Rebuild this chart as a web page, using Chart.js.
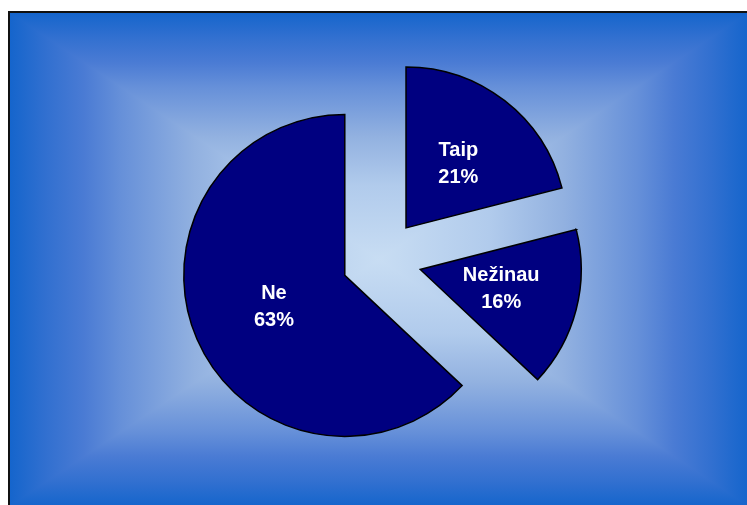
<!DOCTYPE html>
<html>
<head>
<meta charset="utf-8">
<script src="https://cdn.jsdelivr.net/npm/chart.js@4/dist/chart.umd.min.js"></script>
<style>
  html, body { margin: 0; padding: 0; background: #ffffff; }
  canvas { display: block; }
</style>
</head>
<body>
<canvas id="c" width="747" height="505"></canvas>
<script>
// ---- data ----
const categories = ['Taip', 'Nežinau', 'Ne'];
const values = [21, 16, 63];

// ---- style ----
const SLICE_COLOR = '#000080';
const EXPLODE = 40;      // px every slice is pulled out from the centre
const RADIUS = 161;
const LABEL_FONT = 'bold 20px "Liberation Sans", Arial, sans-serif';

const total = values.reduce((a, b) => a + b, 0);
const percentLabels = values.map(v => Math.round(v / total * 100) + '%');

// rectangular "from centre" gradient background with black frame
const frameBackground = {
  id: 'frameBackground',
  beforeDraw(chart) {
    const ctx = chart.ctx;
    const x0 = 10, y0 = 13, x1 = 748, y1 = 506;
    const cx = (x0 + x1) / 2, cy = (y0 + y1) / 2;
    const stops = [[0, '#1565cc'], [0.1, '#3270d0'], [0.2, '#4a7bd4'], [0.3, '#6690d9'],
                   [0.5, '#92b1e0'], [0.7, '#b1cbec'], [1, '#c8ddf3']];
    const grad = (sx, sy) => {
      const g = ctx.createLinearGradient(sx, sy, cx, cy);
      stops.forEach(s => g.addColorStop(s[0], s[1]));
      return g;
    };
    ctx.save();
    // top and bottom halves
    ctx.fillStyle = grad(cx, y0);
    ctx.fillRect(x0, y0, x1 - x0, cy - y0 + 1);
    ctx.fillStyle = grad(cx, y1);
    ctx.fillRect(x0, cy, x1 - x0, y1 - cy);
    // left and right triangles on top
    [[x0, grad(x0, cy)], [x1, grad(x1, cy)]].forEach(([ex, g]) => {
      ctx.beginPath();
      ctx.moveTo(ex, y0);
      ctx.lineTo(ex, y1);
      ctx.lineTo(cx, cy);
      ctx.closePath();
      ctx.fillStyle = g;
      ctx.fill();
    });
    ctx.strokeStyle = '#111111';
    ctx.lineWidth = 2;
    ctx.strokeRect(9, 12, 760, 510);
    ctx.restore();
  }
};

// pull every slice outward along its mid angle (keeps radius unchanged)
const explodeSlices = {
  id: 'explodeSlices',
  afterDatasetUpdate(chart, args) {
    args.meta.data.forEach(arc => {
      const mid = (arc.startAngle + arc.endAngle) / 2;
      arc.x += Math.cos(mid) * EXPLODE;
      arc.y += Math.sin(mid) * EXPLODE;
    });
  }
};

// two-line white labels inside the slices
const sliceLabels = {
  id: 'sliceLabels',
  afterDatasetsDraw(chart) {
    const ctx = chart.ctx;
    const meta = chart.getDatasetMeta(0);
    ctx.save();
    ctx.fillStyle = '#ffffff';
    ctx.font = LABEL_FONT;
    ctx.textAlign = 'center';
    ctx.textBaseline = 'middle';
    meta.data.forEach((arc, i) => {
      const p = arc.tooltipPosition();
      const x = p.x + 3;
      ctx.fillText(categories[i], x, p.y - 13.5);
      ctx.fillText(percentLabels[i], x, p.y + 13.5);
    });
    ctx.restore();
  }
};

new Chart(document.getElementById('c'), {
  type: 'pie',
  data: {
    labels: categories,
    datasets: [{
      data: values,
      backgroundColor: SLICE_COLOR,
      borderColor: '#000000',
      borderWidth: 1.5,
      borderJoinStyle: 'miter',
      radius: RADIUS
    }]
  },
  options: {
    responsive: false,
    animation: false,
    events: [],
    layout: { padding: { left: 16, right: 0, top: 14, bottom: 0 } },
    plugins: {
      legend: { display: false },
      tooltip: { enabled: false },
      title: { display: false }
    }
  },
  plugins: [frameBackground, explodeSlices, sliceLabels]
});
</script>
</body>
</html>
